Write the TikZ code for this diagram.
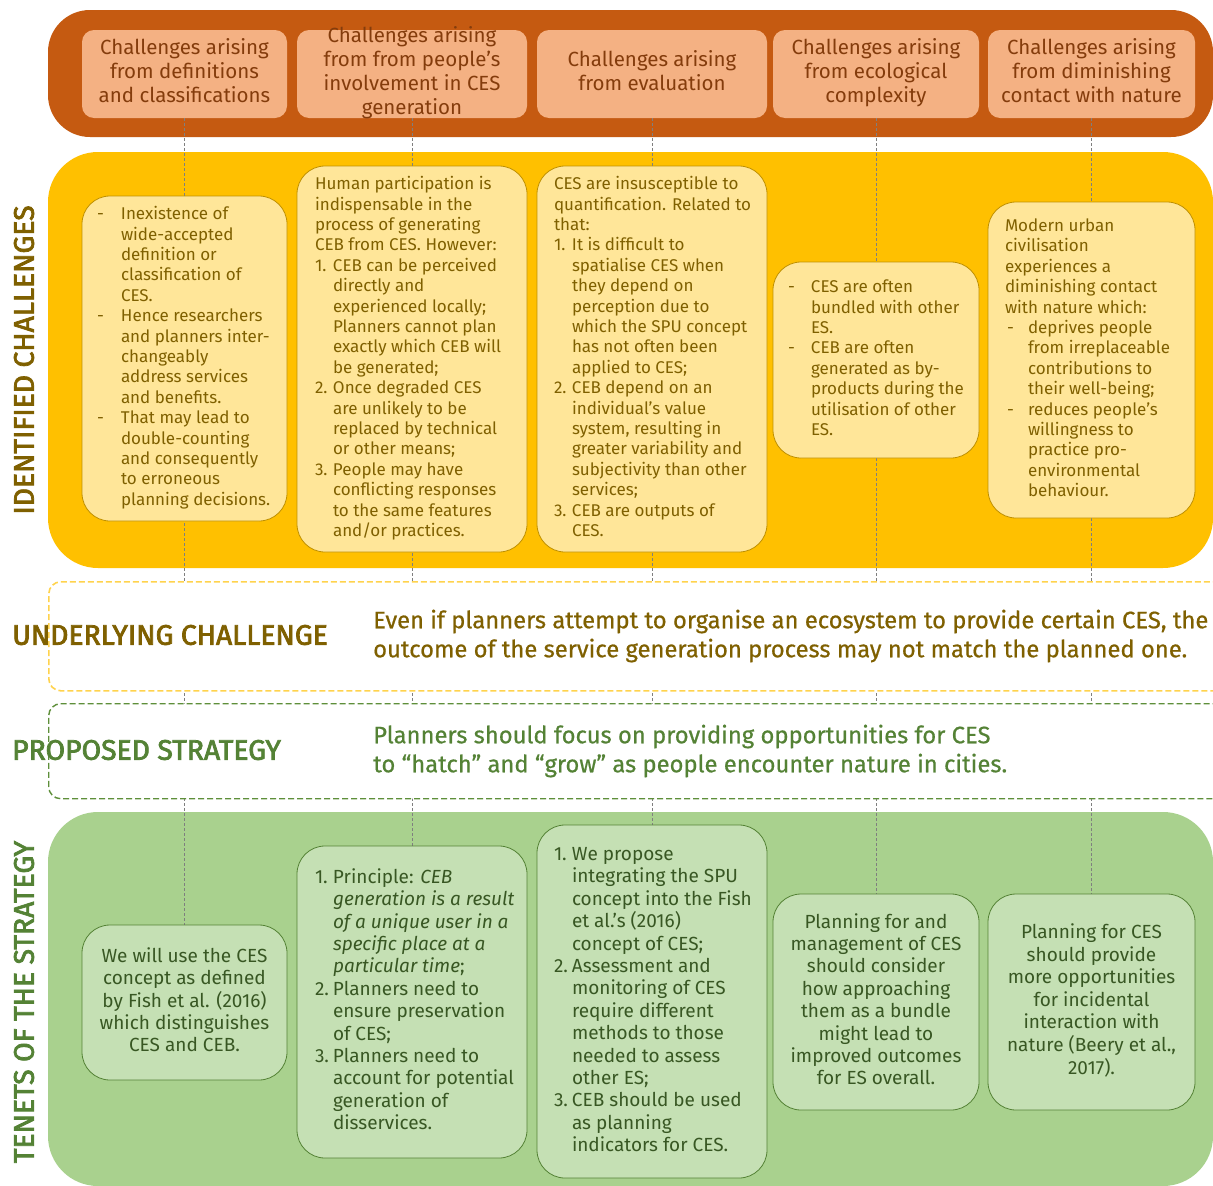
\documentclass[tikz,border=0pt]{standalone}
\usepackage{fontspec}
\setmainfont{Fira Sans}
\newfontfamily\lblfont{Fira Sans}[FakeBold=2.6]
\newfontfamily\midfont{Fira Sans}[FakeBold=0.6]
\definecolor{bandOr}{HTML}{C55A11}
\definecolor{hdrFill}{HTML}{F4B183}
\definecolor{hdrText}{HTML}{843C0C}
\definecolor{bandYe}{HTML}{FFC000}
\definecolor{yFill}{HTML}{FFE699}
\definecolor{yDraw}{HTML}{BF9000}
\definecolor{yText}{HTML}{7F6000}
\definecolor{bandGr}{HTML}{A9D18E}
\definecolor{gFill}{HTML}{C5E0B4}
\definecolor{gDraw}{HTML}{548235}
\definecolor{gText}{HTML}{385723}
\definecolor{dashYe}{HTML}{FFD34D}
\definecolor{dashGr}{HTML}{5E8F3A}
\definecolor{linkGray}{HTML}{7F7F7F}
\newcommand{\blk}[2]{\makebox[#1][l]{\begin{tabular}{@{}l@{}}#2\end{tabular}}}
\newcommand{\ctr}[1]{\begin{tabular}{@{}c@{}}#1\end{tabular}}
\newcommand{\itm}[2][18pt]{\makebox[#1][l]{#2}}
\newcommand{\cnt}[1][18pt]{\hspace*{#1}}
\pgfdeclarelayer{bands}
\pgfdeclarelayer{links}
\pgfsetlayers{bands,links,main}
\tikzset{
  hdrbox/.style={fill=hdrFill, rounded corners=12pt, inner sep=0pt, minimum height=88pt},
  hdrtext/.style={text=hdrText, inner sep=0pt, font=\fontsize{20.5}{24}\selectfont},
  ybox/.style={fill=yFill, draw=yDraw, line width=0.8pt, rounded corners=28pt, inner sep=0pt,
    text=yText, font=\fontsize{17}{20.4}\selectfont},
  gbox/.style={fill=gFill, draw=gDraw, line width=0.8pt, rounded corners=28pt, inner sep=0pt,
    text=gText, font=\fontsize{19}{22.4}\selectfont},
  link/.style={draw=linkGray, line width=0.9pt, dash pattern=on 3pt off 2pt},
  ubox/.style={draw=dashYe, fill=white, line width=1.6pt, dash pattern=on 6pt off 3pt,
    rounded corners=12pt, inner sep=0pt, anchor=north west},
  pbox/.style={draw=dashGr, fill=white, line width=1.4pt, dash pattern=on 6pt off 3pt,
    rounded corners=12pt, inner sep=0pt, anchor=north west},
  sidelbl/.style={inner sep=0pt, font=\lblfont\fontsize{28.3}{30}\selectfont},
  midtext/.style={inner sep=0pt, anchor=west, align=left, font=\midfont\fontsize{23.8}{29}\selectfont},
}
\begin{document}
\begin{tikzpicture}[x=1pt,y=-1pt]
\useasboundingbox (0,0) rectangle (1213,1186);
\begin{pgfonlayer}{bands}
\fill[white] (0,0) rectangle (1213,1186);
\fill[bandOr, rounded corners=42pt] (48,10) rectangle (1213,137);
\fill[bandYe, rounded corners=50pt] (48,152) rectangle (1213,568);
\fill[bandGr, rounded corners=50pt] (48,812) rectangle (1213,1186);
\end{pgfonlayer}

% header boxes
\node[hdrbox, minimum width=205pt] (h1) at (184.5,74) {};
\node[hdrbox, minimum width=230pt] (h2) at (412,74) {};
\node[hdrbox, minimum width=230pt] (h3) at (652,74) {};
\node[hdrbox, minimum width=206pt] (h4) at (876,74) {};
\node[hdrbox, minimum width=207pt] (h5) at (1091.5,74) {};
\node[hdrtext] (h1t) at (h1.center) {\ctr{Challenges arising\\from definitions\\and classifications}};
\node[hdrtext] (h2t) at (h2.center) {\ctr{Challenges arising\\from from people’s\\involvement in CES\\generation}};
\node[hdrtext] (h3t) at (h3.center) {\ctr{Challenges arising\\from evaluation}};
\node[hdrtext] (h4t) at (h4.center) {\ctr{Challenges arising\\from ecological\\complexity}};
\node[hdrtext] (h5t) at (h5.center) {\ctr{Challenges arising\\from diminishing\\contact with nature}};

% identified challenges
\node[ybox, minimum width=205pt, minimum height=325pt] (y1) at (184.5,358.5) {\blk{175pt}{%
\itm[24pt]{-}Inexistence of\\
\cnt[24pt]wide-accepted\\
\cnt[24pt]definition or\\
\cnt[24pt]classification of\\
\cnt[24pt]CES.\\
\itm[24pt]{-}Hence researchers\\
\cnt[24pt]and planners inter-\\
\cnt[24pt]changeably\\
\cnt[24pt]address services\\
\cnt[24pt]and benefits.\\
\itm[24pt]{-}That may lead to\\
\cnt[24pt]double-counting\\
\cnt[24pt]and consequently\\
\cnt[24pt]to erroneous\\
\cnt[24pt]planning decisions.}};
\node[ybox, minimum width=230pt, minimum height=386pt] (y2) at (412,359) {\blk{194pt}{%
Human participation is\\
indispensable in the\\
process of generating\\
CEB from CES. However:\\
\itm{1.}CEB can be perceived\\
\cnt directly and\\
\cnt experienced locally;\\
\cnt Planners cannot plan\\
\cnt exactly which CEB will\\
\cnt be generated;\\
\itm{2.}Once degraded CES\\
\cnt are unlikely to be\\
\cnt replaced by technical\\
\cnt or other means;\\
\itm{3.}People may have\\
\cnt conflicting responses\\
\cnt to the same features\\
\cnt and/or practices.}};
\node[ybox, minimum width=230pt, minimum height=386pt] (y3) at (652,359) {\blk{196pt}{%
CES are insusceptible to\\
quantification. Related to\\
that:\\
\itm{1.}It is difficult to\\
\cnt spatialise CES when\\
\cnt they depend on\\
\cnt perception due to\\
\cnt which the SPU concept\\
\cnt has not often been\\
\cnt applied to CES;\\
\itm{2.}CEB depend on an\\
\cnt individual’s value\\
\cnt system, resulting in\\
\cnt greater variability and\\
\cnt subjectivity than other\\
\cnt services;\\
\itm{3.}CEB are outputs of\\
\cnt CES.}};
\node[ybox, minimum width=206pt, minimum height=196pt] (y4) at (876,360) {\blk{176pt}{%
\itm[23pt]{-}CES are often\\
\cnt[23pt]bundled with other\\
\cnt[23pt]ES.\\
\itm[23pt]{-}CEB are often\\
\cnt[23pt]generated as by-\\
\cnt[23pt]products during the\\
\cnt[23pt]utilisation of other\\
\cnt[23pt]ES.}};
\node[ybox, minimum width=207pt, minimum height=316pt] (y5) at (1091.5,360) {\blk{173pt}{%
Modern urban\\
civilisation\\
experiences a\\
diminishing contact\\
with nature which:\\
\itm[23pt]{\hspace{2pt}-}deprives people\\
\cnt[23pt]from irreplaceable\\
\cnt[23pt]contributions to\\
\cnt[23pt]their well-being;\\
\itm[23pt]{\hspace{2pt}-}reduces people’s\\
\cnt[23pt]willingness to\\
\cnt[23pt]practice pro-\\
\cnt[23pt]environmental\\
\cnt[23pt]behaviour.}};

% tenets
\node[gbox, minimum width=205pt, minimum height=155pt] (g1) at (184.5,1002.5) {\ctr{%
We will use the CES\\concept as defined\\by Fish et al. (2016)\\which distinguishes\\CES and CEB.}};
\node[gbox, minimum width=230pt, minimum height=312pt] (g2) at (412,1002) {\blk{194pt}{%
\itm{1.}Principle: \textit{CEB}\\
\cnt\textit{generation is a result}\\
\cnt\textit{of a unique user in a}\\
\cnt\textit{specific place at a}\\
\cnt\textit{particular time};\\
\itm{2.}Planners need to\\
\cnt ensure preservation\\
\cnt of CES;\\
\itm{3.}Planners need to\\
\cnt account for potential\\
\cnt generation of\\
\cnt disservices.}};
\node[gbox, minimum width=230pt, minimum height=353pt] (g3) at (652,1001.5) {\blk{196pt}{%
\itm{1.}We propose\\
\cnt integrating the SPU\\
\cnt concept into the Fish\\
\cnt et al.’s (2016)\\
\cnt concept of CES;\\
\itm{2.}Assessment and\\
\cnt monitoring of CES\\
\cnt require different\\
\cnt methods to those\\
\cnt needed to assess\\
\cnt other ES;\\
\itm{3.}CEB should be used\\
\cnt as planning\\
\cnt indicators for CES.}};
\node[gbox, minimum width=206pt, minimum height=216pt] (g4) at (876,1002) {\ctr{%
Planning for and\\management of CES\\should consider\\how approaching\\them as a bundle\\might lead to\\improved outcomes\\for ES overall.}};
\node[gbox, minimum width=207pt, minimum height=216pt] (g5) at (1091.5,1002) {\ctr{%
Planning for CES\\should provide\\more opportunities\\for incidental\\interaction with\\nature (Beery et al.,\\2017).}};

% connectors behind the boxes
\begin{pgfonlayer}{links}
\foreach \i in {1,...,5} \draw[link] (h\i.south) -- (g\i.north);
\end{pgfonlayer}

% underlying challenge and proposed strategy
\node[ubox, minimum width=1200pt, minimum height=109pt] (ub) at (48,581) {};
\node[pbox, minimum width=1200pt, minimum height=95pt] (pb) at (48,703) {};
\node[sidelbl, text=yText, anchor=west] (ul) at (12,635) {UNDERLYING CHALLENGE};
\node[midtext, text=yText] (ut) at (373,636) {Even if planners attempt to organise an ecosystem to provide certain CES, the\\outcome of the service generation process may not match the planned one.};
\node[sidelbl, text=gDraw, anchor=west] (pl) at (12,750) {PROPOSED STRATEGY};
\node[midtext, text=gDraw] (pt) at (373,751) {Planners should focus on providing opportunities for CES\\to “hatch” and “grow” as people encounter nature in cities.};

% side labels
\node[sidelbl, text=yText, rotate=90] (il) at (24,360) {IDENTIFIED CHALLENGES};
\node[sidelbl, text=gDraw, rotate=90] (tl) at (24,1002) {TENETS OF THE STRATEGY};
\end{tikzpicture}
\end{document}
